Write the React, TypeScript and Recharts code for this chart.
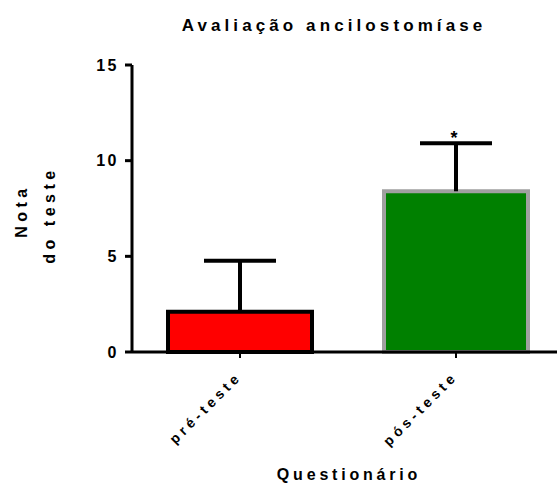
import React from 'react';
import { ComposedChart, Bar, XAxis, YAxis, Cell, Scatter } from 'recharts';

const categories = ['pré-teste', 'pós-teste'];
const means = [2.1, 8.4];
const errUp = [2.67, 2.51];
const stars: (number | null)[] = [null, 11.35];
const fills = ['#FF0000', '#008000'];
const strokes = ['#000000', '#A0A0A0'];
const yTicks = [0, 5, 10, 15];

const data = categories.map((c, i) => ({
  name: c,
  value: means[i],
  err: errUp[i],
  star: stars[i],
}));

const FONT = '"Liberation Sans", Arial, Helvetica, sans-serif';

const XTick = (props: any) => {
  const { x, y, payload } = props;
  return (
    <g transform={`translate(${x - 1},${y + 14})`}>
      <text
        transform="rotate(-45)"
        textAnchor="end"
        fontFamily={FONT}
        fontWeight="bold"
        fontSize={14}
        letterSpacing={4}
        fill="#000"
        dy={5}
      >
        {payload.value}
      </text>
    </g>
  );
};

const ErrShape = (props: any) => {
  const { x, y, width, height } = props;
  if (x == null || y == null) return null;
  const cx = x + width / 2;
  return (
    <g>
      <line x1={cx} y1={y + height} x2={cx} y2={y} stroke="#000" strokeWidth={4} />
      <line x1={cx - 36} y1={y} x2={cx + 36} y2={y} stroke="#000" strokeWidth={4} />
    </g>
  );
};

const Star = (props: any) => {
  const { cx, cy } = props;
  if (cy == null || isNaN(cy)) return null;
  return (
    <text x={cx - 2} y={cy + 9} textAnchor="middle" fontFamily={FONT} fontWeight="bold" fontSize={18} fill="#000">
      *
    </text>
  );
};

export default function App() {
  return (
    <div style={{ position: 'absolute', left: 0, top: 0, width: 557, height: 484, overflow: 'hidden', background: '#fff' }}>
      <ComposedChart
        width={565}
        height={484}
        data={data}
        margin={{ top: 65, right: 1, bottom: 0, left: 0 }}
        barCategoryGap={36}
      >
        <XAxis
          dataKey="name"
          axisLine={{ stroke: '#000', strokeWidth: 3 }}
          tickLine={{ stroke: '#000', strokeWidth: 2 }}
          tickSize={6}
          tick={<XTick />}
          height={132}
          interval={0}
        />
        <YAxis
          domain={[0, 15]}
          ticks={yTicks}
          width={132}
          axisLine={{ stroke: '#000', strokeWidth: 3 }}
          tickLine={{ stroke: '#000', strokeWidth: 3 }}
          tickSize={7}
          tickMargin={6}
          tick={{ fill: '#000', fontFamily: FONT, fontWeight: 'bold', fontSize: 16, letterSpacing: 2.5 }}
        />
        <Bar dataKey="value" stackId="s" barSize={144} strokeWidth={4} isAnimationActive={false}>
          {data.map((d, i) => (
            <Cell key={d.name} fill={fills[i]} stroke={strokes[i]} />
          ))}
        </Bar>
        <Bar dataKey="err" stackId="s" barSize={144} shape={<ErrShape />} isAnimationActive={false} />
        <Scatter dataKey="star" shape={<Star />} isAnimationActive={false} />
      </ComposedChart>
      <svg width={557} height={484} style={{ position: 'absolute', left: 0, top: 0, pointerEvents: 'none' }}>
        <text x={334} y={31} textAnchor="middle" fontFamily={FONT} fontWeight="bold" fontSize={17} letterSpacing={4.1} fill="#000">
          Avaliação ancilostomíase
        </text>
        <text transform="translate(27,211) rotate(-90)" textAnchor="middle" fontFamily={FONT} fontWeight="bold" fontSize={16} letterSpacing={4.5} fill="#000">
          Nota
        </text>
        <text transform="translate(55,215) rotate(-90)" textAnchor="middle" fontFamily={FONT} fontWeight="bold" fontSize={16} letterSpacing={4.5} fill="#000">
          do teste
        </text>
        <text x={349} y={480} textAnchor="middle" fontFamily={FONT} fontWeight="bold" fontSize={16} letterSpacing={3.8} fill="#000">
          Questionário
        </text>
      </svg>
    </div>
  );
}
